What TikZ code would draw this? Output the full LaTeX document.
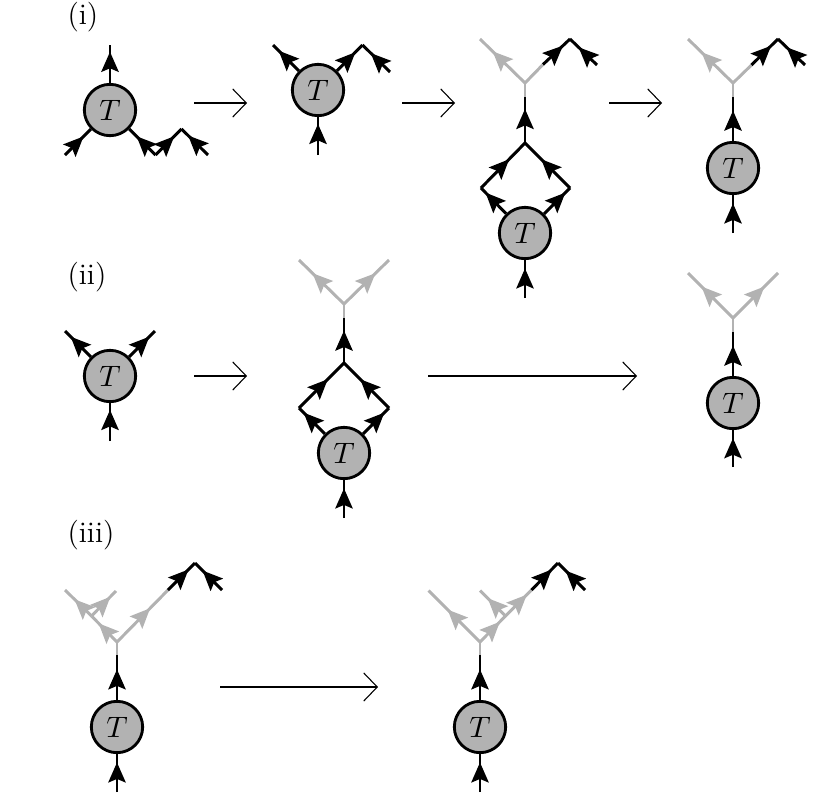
\documentclass[tikz,border=0pt]{standalone}
\usetikzlibrary{arrows.meta,decorations.markings}
\tikzset
{
  TensorStyle/.style =
  {
    shape = circle,
    draw,
    fill = black!30,
    line width = 1.05pt,
    minimum size = 19pt,
    inner sep = 0pt,
    font = \fontsize{11}{13}\selectfont,
  },
  LegStyle/.style =
  {
    line width = 1.1pt,
  },
  GrayLegStyle/.style =
  {
    line width = 1.1pt,
    color = black!30,
  },
  TipAt/.style =
  {
    postaction = {decorate},
    decoration = {markings, mark = at position #1 with {\arrow{Stealth[length=7.4pt,width=6.4pt,inset=1.3pt]}}},
  },
  StepArrowStyle/.style =
  {
    line width = 0.4pt,
    -{Straight Barb[length=5pt,width=10.4pt]},
  },
  LabelStyle/.style =
  {
    anchor = west,
    inner sep = 0pt,
    font = \fontsize{11}{13}\selectfont,
  },
}
\begin{document}
\begin{tikzpicture}[x=0.37pt,y=-0.37pt]
  \useasboundingbox (0,0) rectangle (830,793);

  \node (LabelOne) [LabelStyle] at (67,17) {(i)};
  \node (LabelTwo) [LabelStyle] at (67,277) {(ii)};
  \node (LabelThree) [LabelStyle] at (67,535) {(iii)};

  % row one, first picture
  \node (TA) [TensorStyle] at (110,110) {$T$};
  \coordinate (AUp) at (110,45);
  \coordinate (ALeft) at (65,155);
  \coordinate (AKnee) at (155.5,155);
  \coordinate (APeak) at (181.5,129);
  \coordinate (AEnd) at (208,155);
  \draw [LegStyle, TipAt=0.82] (TA) -- (AUp);
  \draw [LegStyle, TipAt=0.72] (ALeft) -- (TA);
  \draw [LegStyle, TipAt=0.72] (AKnee) -- (TA);
  \draw [LegStyle, TipAt=0.72] (AKnee) -- (APeak);
  \draw [LegStyle, TipAt=0.75] (AEnd) -- (APeak);

  % row one, second picture
  \node (TB) [TensorStyle] at (318,90) {$T$};
  \coordinate (BLeft) at (273,45);
  \coordinate (BPeak) at (362.5,45);
  \coordinate (BEnd) at (390,72);
  \coordinate (BDown) at (318,155);
  \draw [LegStyle, TipAt=0.78] (TB) -- (BLeft);
  \draw [LegStyle, TipAt=0.72] (TB) -- (BPeak);
  \draw [LegStyle, TipAt=0.7] (BEnd) -- (BPeak);
  \draw [LegStyle, TipAt=0.82] (BDown) -- (TB);

  % row one, third picture
  \node (TC) [TensorStyle] at (525,233) {$T$};
  \coordinate (CFork) at (525,83);
  \coordinate (CLeft) at (480,39);
  \coordinate (CMid) at (543,64.5);
  \coordinate (CPeak) at (570,39);
  \coordinate (CEnd) at (597,65);
  \coordinate (CStem) at (525,97);
  \coordinate (CTop) at (525,143);
  \coordinate (CWest) at (481,188);
  \coordinate (CEast) at (570,188);
  \coordinate (CDown) at (525,298);
  \draw [GrayLegStyle, TipAt=0.72] (CFork) -- (CLeft);
  \draw [GrayLegStyle] (CFork) -- (CMid);
  \draw [GrayLegStyle] (CFork) -- (CStem);
  \draw [LegStyle, TipAt=0.74] (CMid) -- (CPeak);
  \draw [LegStyle, TipAt=0.68] (CEnd) -- (CPeak);
  \draw [LegStyle, TipAt=0.74] (CTop) -- (CStem);
  \draw [LegStyle, TipAt=0.64] (CWest) -- (CTop);
  \draw [LegStyle, TipAt=0.64] (CEast) -- (CTop);
  \draw [LegStyle, TipAt=0.82] (TC) -- (CWest);
  \draw [LegStyle, TipAt=0.82] (TC) -- (CEast);
  \draw [LegStyle, TipAt=0.78] (CDown) -- (TC);

  % row one, fourth picture
  \node (TD) [TensorStyle] at (733,168) {$T$};
  \coordinate (DFork) at (733,83);
  \coordinate (DLeft) at (688,39);
  \coordinate (DMid) at (751.5,65);
  \coordinate (DPeak) at (778,39);
  \coordinate (DEnd) at (805,65);
  \coordinate (DStem) at (733,97);
  \coordinate (DDown) at (733,233);
  \draw [GrayLegStyle, TipAt=0.7] (DFork) -- (DLeft);
  \draw [GrayLegStyle] (DFork) -- (DMid);
  \draw [GrayLegStyle] (DFork) -- (DStem);
  \draw [LegStyle, TipAt=0.74] (DMid) -- (DPeak);
  \draw [LegStyle, TipAt=0.68] (DEnd) -- (DPeak);
  \draw [LegStyle, TipAt=0.69] (TD) -- (DStem);
  \draw [LegStyle, TipAt=0.78] (DDown) -- (TD);

  % row two, first picture
  \node (TE) [TensorStyle] at (110,376) {$T$};
  \coordinate (ELeft) at (65,331);
  \coordinate (ERight) at (155,331);
  \coordinate (EDown) at (110,441);
  \draw [LegStyle, TipAt=0.78] (TE) -- (ELeft);
  \draw [LegStyle, TipAt=0.78] (TE) -- (ERight);
  \draw [LegStyle, TipAt=0.82] (EDown) -- (TE);

  % row two, second picture
  \node (TF) [TensorStyle] at (344,453) {$T$};
  \coordinate (FFork) at (344,304);
  \coordinate (FLeft) at (299,260);
  \coordinate (FRight) at (389,260);
  \coordinate (FStem) at (344,318);
  \coordinate (FTop) at (344,363);
  \coordinate (FWest) at (299,408);
  \coordinate (FEast) at (389,408);
  \coordinate (FDown) at (344,518);
  \draw [GrayLegStyle, TipAt=0.7] (FFork) -- (FLeft);
  \draw [GrayLegStyle, TipAt=0.7] (FFork) -- (FRight);
  \draw [GrayLegStyle] (FFork) -- (FStem);
  \draw [LegStyle, TipAt=0.72] (FTop) -- (FStem);
  \draw [LegStyle, TipAt=0.64] (FWest) -- (FTop);
  \draw [LegStyle, TipAt=0.64] (FEast) -- (FTop);
  \draw [LegStyle, TipAt=0.82] (TF) -- (FWest);
  \draw [LegStyle, TipAt=0.82] (TF) -- (FEast);
  \draw [LegStyle, TipAt=0.78] (FDown) -- (TF);

  % row two, third picture
  \node (TG) [TensorStyle] at (733,403) {$T$};
  \coordinate (GFork) at (733,318);
  \coordinate (GLeft) at (688,273);
  \coordinate (GRight) at (778,273);
  \coordinate (GStem) at (733,332);
  \coordinate (GDown) at (733,467);
  \draw [GrayLegStyle, TipAt=0.7] (GFork) -- (GLeft);
  \draw [GrayLegStyle, TipAt=0.7] (GFork) -- (GRight);
  \draw [GrayLegStyle] (GFork) -- (GStem);
  \draw [LegStyle, TipAt=0.69] (TG) -- (GStem);
  \draw [LegStyle, TipAt=0.78] (GDown) -- (TG);

  % row three, first picture
  \node (TH) [TensorStyle] at (117,727) {$T$};
  \coordinate (HFork) at (117,642);
  \coordinate (HBranch) at (91.5,616);
  \coordinate (HLeft) at (65,590);
  \coordinate (HTwig) at (116,591);
  \coordinate (HMid) at (168,590);
  \coordinate (HPeak) at (195,563);
  \coordinate (HEnd) at (222,590);
  \coordinate (HStem) at (117,655);
  \coordinate (HDown) at (117,792);
  \draw [GrayLegStyle, TipAt=0.72] (HFork) -- (HBranch);
  \draw [GrayLegStyle, TipAt=0.64] (HBranch) -- (HLeft);
  \draw [GrayLegStyle, TipAt=0.77] (HBranch) -- (HTwig);
  \draw [GrayLegStyle, TipAt=0.65] (HFork) -- (HMid);
  \draw [GrayLegStyle] (HFork) -- (HStem);
  \draw [LegStyle, TipAt=0.76] (HMid) -- (HPeak);
  \draw [LegStyle, TipAt=0.72] (HEnd) -- (HPeak);
  \draw [LegStyle, TipAt=0.68] (TH) -- (HStem);
  \draw [LegStyle, TipAt=0.78] (HDown) -- (TH);

  % row three, second picture
  \node (TI) [TensorStyle] at (480,727) {$T$};
  \coordinate (IFork) at (480,642);
  \coordinate (ILeft) at (428.5,590.5);
  \coordinate (IBranch) at (505.5,616);
  \coordinate (ITwig) at (480,590.5);
  \coordinate (IMid) at (531.5,590);
  \coordinate (IPeak) at (558,563);
  \coordinate (IEnd) at (585,590);
  \coordinate (IStem) at (480,655);
  \coordinate (IDown) at (480,792);
  \draw [GrayLegStyle, TipAt=0.63] (IFork) -- (ILeft);
  \draw [GrayLegStyle, TipAt=0.78] (IFork) -- (IBranch);
  \draw [GrayLegStyle, TipAt=0.7] (IBranch) -- (ITwig);
  \draw [GrayLegStyle, TipAt=0.82] (IBranch) -- (IMid);
  \draw [GrayLegStyle] (IFork) -- (IStem);
  \draw [LegStyle, TipAt=0.76] (IMid) -- (IPeak);
  \draw [LegStyle, TipAt=0.72] (IEnd) -- (IPeak);
  \draw [LegStyle, TipAt=0.68] (TI) -- (IStem);
  \draw [LegStyle, TipAt=0.78] (IDown) -- (TI);

  % the arrows between pictures
  \coordinate (StepAa) at (194,103);
  \coordinate (StepAb) at (247,103);
  \coordinate (StepBa) at (402,103);
  \coordinate (StepBb) at (455,103);
  \coordinate (StepCa) at (609,103);
  \coordinate (StepCb) at (662,103);
  \coordinate (StepDa) at (194,376);
  \coordinate (StepDb) at (247,376);
  \coordinate (StepEa) at (428,376);
  \coordinate (StepEb) at (637,376);
  \coordinate (StepFa) at (220,687);
  \coordinate (StepFb) at (378,687);
  \draw [StepArrowStyle] (StepAa) -- (StepAb);
  \draw [StepArrowStyle] (StepBa) -- (StepBb);
  \draw [StepArrowStyle] (StepCa) -- (StepCb);
  \draw [StepArrowStyle] (StepDa) -- (StepDb);
  \draw [StepArrowStyle] (StepEa) -- (StepEb);
  \draw [StepArrowStyle] (StepFa) -- (StepFb);
\end{tikzpicture}
\end{document}
